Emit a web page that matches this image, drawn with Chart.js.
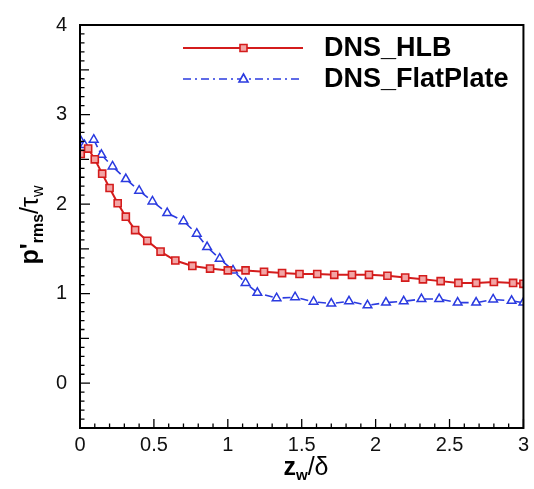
<!DOCTYPE html>
<html>
<head>
<meta charset="utf-8">
<script src="https://cdn.jsdelivr.net/npm/chart.js@4.4.0/dist/chart.umd.min.js"></script>
<style>
  html, body { margin: 0; padding: 0; background: #fff; }
  canvas { display: block; }
</style>
</head>
<body>
<canvas id="chart" width="534" height="489"></canvas>
<script>
// --- Data ---
const hlbX = [0.005, 0.055, 0.10, 0.15, 0.20, 0.255, 0.31, 0.373, 0.455, 0.545, 0.645, 0.76, 0.88, 1.0, 1.12,
              1.245, 1.367, 1.485, 1.605, 1.72, 1.84, 1.955, 2.08, 2.2, 2.32, 2.44, 2.56, 2.68, 2.80, 2.93, 3.0];
const hlbY = [2.56, 2.62, 2.50, 2.34, 2.18, 2.01, 1.86, 1.71, 1.59, 1.47, 1.37, 1.31, 1.28, 1.26, 1.26,
              1.245, 1.23, 1.22, 1.22, 1.21, 1.21, 1.21, 1.20, 1.18, 1.16, 1.14, 1.12, 1.12, 1.13, 1.12, 1.11];

const flatX = [0, 0.03, 0.093, 0.145, 0.22, 0.31, 0.40, 0.49, 0.59, 0.70, 0.79, 0.86, 0.945, 1.035, 1.12,
               1.20, 1.33, 1.455, 1.58, 1.70, 1.82, 1.945, 2.07, 2.19, 2.31, 2.43, 2.555, 2.68, 2.795, 2.92, 3.0];
const flatY = [2.72, 2.66, 2.72, 2.55, 2.42, 2.28, 2.15, 2.03, 1.90, 1.81, 1.67, 1.52, 1.39, 1.26, 1.12,
               1.01, 0.95, 0.96, 0.91, 0.89, 0.915, 0.87, 0.90, 0.915, 0.94, 0.94, 0.90, 0.90, 0.935, 0.92, 0.90];

const xTicks = [0, 0.5, 1, 1.5, 2, 2.5, 3];
const yTicks = [0, 1, 2, 3, 4];
const seriesNames = ['DNS_HLB', 'DNS_FlatPlate'];

const RED = '#d41c1c';
const BLUE = '#2b3be0';
const FONT = '"Liberation Sans", Arial, Helvetica, sans-serif';

function pairs(xs, ys) {
    return xs.map((x, i) => ({ x: x, y: ys[i] }));
}

// draws a row of text pieces (for sub/superscripts), centred on cx
function drawRuns(ctx, runs, cx, baseline) {
    let total = 0;
    runs.forEach(r => { ctx.font = r.font; r.w = ctx.measureText(r.t).width; total += r.w; });
    let x = cx - total / 2;
    ctx.textBaseline = 'alphabetic';
    ctx.textAlign = 'left';
    runs.forEach(r => {
        ctx.font = r.font;
        ctx.fillText(r.t, x, baseline + (r.dy || 0));
        x += r.w;
    });
}

// --- Tecplot-like frame, inward ticks, axis titles and legend ---
const decorations = {
    id: 'decorations',
    afterDraw(chart) {
        const { ctx, chartArea: a, scales: { x, y } } = chart;
        ctx.save();
        ctx.strokeStyle = '#000';
        ctx.fillStyle = '#000';

        // frame
        ctx.lineWidth = 2;
        ctx.strokeRect(a.left, a.top, a.right - a.left, a.bottom - a.top);

        // ticks (major / minor), pointing inward
        ctx.lineWidth = 1.3;
        ctx.beginPath();
        for (let i = 0; i <= 30; i++) {
            const px = x.getPixelForValue(i / 10);
            const len = i % 5 === 0 ? 9 : 4.5;
            ctx.moveTo(px, a.bottom);
            ctx.lineTo(px, a.bottom - len);
        }
        for (let i = -5; i <= 40; i++) {
            const py = y.getPixelForValue(i / 10);
            const len = i % 10 === 0 ? 10 : (i % 5 === 0 ? 9 : 4.5);
            ctx.moveTo(a.left, py);
            ctx.lineTo(a.left + len, py);
        }
        ctx.stroke();

        // x title: z_w / delta
        drawRuns(ctx, [
            { t: 'z', font: 'bold 25px ' + FONT },
            { t: 'w', font: 'bold 15px ' + FONT, dy: 5 },
            { t: '/δ', font: '25px ' + FONT }
        ], 306, 475);

        // y title: p'_rms / tau_w, rotated
        ctx.save();
        ctx.translate(38, 225);
        ctx.rotate(-Math.PI / 2);
        drawRuns(ctx, [
            { t: 'p', font: 'bold 25px ' + FONT },
            { t: '\'', font: 'bold 25px ' + FONT },
            { t: 'rms', font: 'bold 16px ' + FONT, dy: 5 },
            { t: '/τ', font: '25px ' + FONT },
            { t: 'w', font: '16px ' + FONT, dy: 5 }
        ], 0, 0);
        ctx.restore();

        // legend
        const rows = [
            { name: seriesNames[0], y: 48, color: RED, dash: [], shape: 'rect', fill: '#f2a5a5', lw: 2 },
            { name: seriesNames[1], y: 79, color: BLUE, dash: [8, 4, 2, 4], shape: 'triangle', fill: '#ffffff', lw: 1.6 }
        ];
        rows.forEach(r => {
            ctx.strokeStyle = r.color;
            ctx.lineWidth = r.lw;
            ctx.setLineDash(r.dash);
            ctx.beginPath();
            ctx.moveTo(183, r.y);
            ctx.lineTo(303, r.y);
            ctx.stroke();
            ctx.setLineDash([]);
            ctx.fillStyle = r.fill;
            ctx.lineWidth = 1.6;
            ctx.beginPath();
            if (r.shape === 'rect') {
                ctx.rect(240, r.y - 3.5, 7, 7);
            } else {
                ctx.moveTo(243.5, r.y - 5);
                ctx.lineTo(248, r.y + 3);
                ctx.lineTo(239, r.y + 3);
                ctx.closePath();
            }
            ctx.fill();
            ctx.stroke();
            ctx.fillStyle = '#000';
            ctx.font = 'bold 27px ' + FONT;
            ctx.textAlign = 'left';
            ctx.textBaseline = 'middle';
            ctx.fillText(r.name, 324, r.y + 1);
        });
        ctx.restore();
    }
};

const ctx = document.getElementById('chart').getContext('2d');
const chart = new Chart(ctx, {
    type: 'scatter',
    data: {
        datasets: [
            {
                label: seriesNames[0],
                data: pairs(hlbX, hlbY),
                showLine: true,
                borderColor: RED,
                borderWidth: 2,
                pointStyle: 'rect',
                pointRadius: 5,
                pointBorderWidth: 1.6,
                pointBorderColor: RED,
                pointBackgroundColor: '#f2a5a5',
                order: 1
            },
            {
                label: seriesNames[1],
                data: pairs(flatX, flatY),
                showLine: true,
                borderColor: BLUE,
                borderWidth: 1.6,
                borderDash: [8, 4, 2, 4],
                pointStyle: 'triangle',
                pointRadius: 5,
                pointBorderWidth: 1.5,
                pointBorderColor: BLUE,
                pointBackgroundColor: '#ffffff',
                order: 2
            }
        ]
    },
    options: {
        responsive: false,
        animation: false,
        layout: { padding: { top: 17, right: 3, left: 0, bottom: 0 } },
        plugins: {
            legend: { display: false },
            tooltip: { enabled: false }
        },
        scales: {
            x: {
                type: 'linear',
                min: 0,
                max: 3,
                grid: { display: false, drawTicks: false },
                border: { display: false },
                afterBuildTicks: s => { s.ticks = xTicks.map(v => ({ value: v })); },
                afterFit: s => { s.height = 61; },
                ticks: {
                    color: '#111',
                    padding: 5,
                    maxRotation: 0,
                    font: { family: FONT, size: 20 },
                    callback: v => String(v)
                }
            },
            y: {
                type: 'linear',
                min: -0.5,
                max: 4,
                grid: { display: false, drawTicks: false },
                border: { display: false },
                afterBuildTicks: s => { s.ticks = yTicks.map(v => ({ value: v })); },
                afterFit: s => { s.width = 80; },
                ticks: {
                    color: '#111',
                    padding: 13,
                    font: { family: FONT, size: 20 },
                    callback: v => String(v)
                }
            }
        }
    },
    plugins: [decorations]
});
</script>
</body>
</html>
